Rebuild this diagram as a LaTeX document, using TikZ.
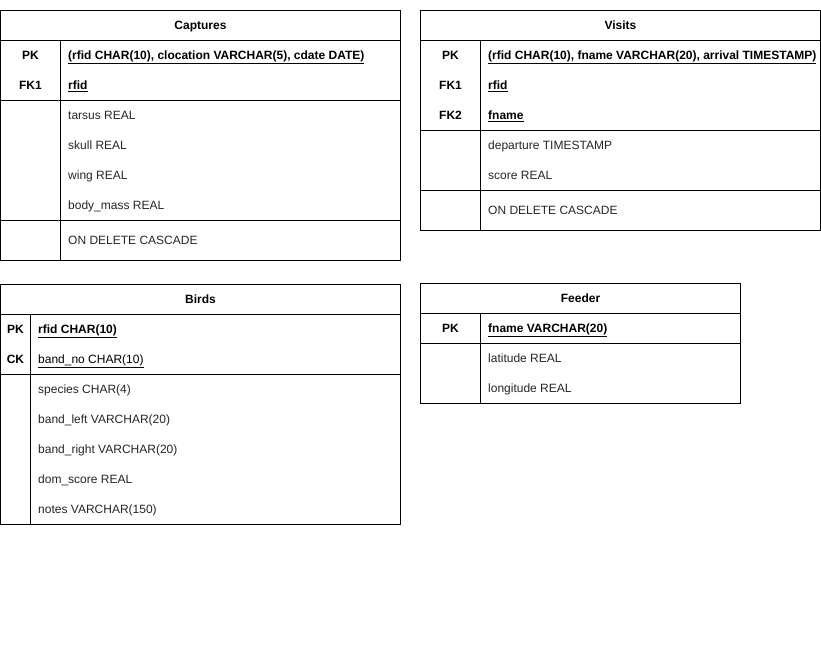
\documentclass[tikz,border=0pt]{standalone}
\usepackage{fontspec}
\setmainfont{Liberation Sans}
\begin{document}
\begin{tikzpicture}[x=1pt,y=-1pt,
  frame/.style={draw=black,line width=1pt},
  sep/.style={draw=black,line width=1pt},
  title/.style={font=\fontsize{12}{14}\selectfont\bfseries,inner sep=0pt,text height=8.6pt,text depth=0pt,anchor=center,text=black},
  keylbl/.style={font=\fontsize{12}{14}\selectfont\bfseries,inner sep=0pt,text height=8.6pt,text depth=0pt,anchor=center,text=black},
  keyfld/.style={font=\fontsize{12}{14}\selectfont\bfseries,inner sep=0pt,text height=8.6pt,text depth=0pt,anchor=west,text=black},
  fld/.style={font=\fontsize{12}{14}\selectfont,inner sep=0pt,text height=8.6pt,text depth=0pt,anchor=west,text=black!85}
]
\useasboundingbox (0,0) rectangle (821,661);
\fill[white] (0,0) rectangle (821,661);
\newcommand{\ulx}[1]{\underline{#1}}

% ---------- Captures ----------
\draw[frame] (0.5,10.5) rectangle (400.5,260.5);
\draw[sep] (0.5,40.5) -- (400.5,40.5);
\draw[sep] (0.5,100.5) -- (400.5,100.5);
\draw[sep] (0.5,220.5) -- (400.5,220.5);
\draw[sep] (60.5,40.5) -- (60.5,260.5);
\node[title] (capT) at (200.5,25) {Captures};
\node[keylbl] (capPK) at (30.5,55) {PK};
\node[keylbl] (capFK1) at (30.5,85) {FK1};
\node[keyfld] (capPKf) at (68,55) {\ulx{(rfid CHAR(10), clocation VARCHAR(5), cdate DATE)}};
\node[keyfld] (capFK1f) at (68,85) {\ulx{rfid}};
\node[fld] (capA1) at (68,115) {tarsus REAL};
\node[fld] (capA2) at (68,145) {skull REAL};
\node[fld] (capA3) at (68,175) {wing REAL};
\node[fld] (capA4) at (68,205) {body\_mass REAL};
\node[fld] (capC) at (68,240) {ON DELETE CASCADE};

% ---------- Visits ----------
\draw[frame] (420.5,10.5) rectangle (820.5,230.5);
\draw[sep] (420.5,40.5) -- (820.5,40.5);
\draw[sep] (420.5,130.5) -- (820.5,130.5);
\draw[sep] (420.5,190.5) -- (820.5,190.5);
\draw[sep] (480.5,40.5) -- (480.5,230.5);
\node[title] (visT) at (620.5,25) {Visits};
\node[keylbl] (visPK) at (450.5,55) {PK};
\node[keylbl] (visFK1) at (450.5,85) {FK1};
\node[keylbl] (visFK2) at (450.5,115) {FK2};
\node[keyfld] (visPKf) at (488,55) {\ulx{(rfid CHAR(10), fname VARCHAR(20), arrival TIMESTAMP)}};
\node[keyfld] (visFK1f) at (488,85) {\ulx{rfid}};
\node[keyfld] (visFK2f) at (488,115) {\ulx{fname}};
\node[fld] (visA1) at (488,145) {departure TIMESTAMP};
\node[fld] (visA2) at (488,175) {score REAL};
\node[fld] (visC) at (488,210) {ON DELETE CASCADE};

% ---------- Birds ----------
\draw[frame] (0.5,284.5) rectangle (400.5,524.5);
\draw[sep] (0.5,314.5) -- (400.5,314.5);
\draw[sep] (0.5,374.5) -- (400.5,374.5);
\draw[sep] (30.5,314.5) -- (30.5,524.5);
\node[title] (birT) at (200.5,299) {Birds};
\node[keylbl] (birPK) at (15.5,329) {PK};
\node[keylbl] (birCK) at (15.5,359) {CK};
\node[keyfld] (birPKf) at (38,329) {\ulx{rfid CHAR(10)}};
\node[fld,text=black] (birCKf) at (38,359) {\ulx{band\_no CHAR(10)}};
\node[fld] (birA1) at (38,389) {species CHAR(4)};
\node[fld] (birA2) at (38,419) {band\_left VARCHAR(20)};
\node[fld] (birA3) at (38,449) {band\_right VARCHAR(20)};
\node[fld] (birA4) at (38,479) {dom\_score REAL};
\node[fld] (birA5) at (38,509) {notes VARCHAR(150)};

% ---------- Feeder ----------
\draw[frame] (420.5,283.5) rectangle (740.5,403.5);
\draw[sep] (420.5,313.5) -- (740.5,313.5);
\draw[sep] (420.5,343.5) -- (740.5,343.5);
\draw[sep] (480.5,313.5) -- (480.5,403.5);
\node[title] (feeT) at (580.5,298) {Feeder};
\node[keylbl] (feePK) at (450.5,328) {PK};
\node[keyfld] (feePKf) at (488,328) {\ulx{fname VARCHAR(20)}};
\node[fld] (feeA1) at (488,358) {latitude REAL};
\node[fld] (feeA2) at (488,388) {longitude REAL};
\end{tikzpicture}
\end{document}
